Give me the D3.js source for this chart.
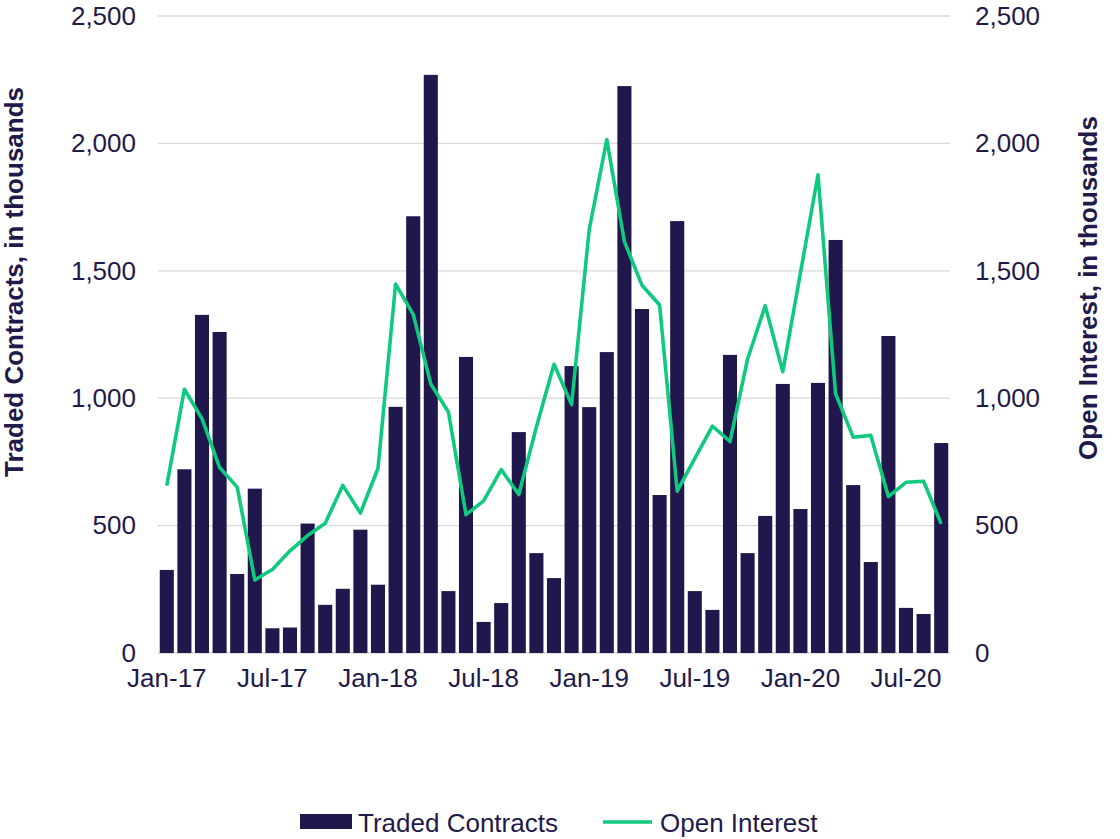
<!DOCTYPE html>
<html>
<head>
<meta charset="utf-8">
<script src="https://cdn.jsdelivr.net/npm/d3@7"></script>
<style>
  body { margin: 0; background: #fff; }
  svg { font-family: "Liberation Sans", Arial, sans-serif; }
</style>
</head>
<body>
<div id="chart"></div>
<script>
// months Jan-17 .. Sep-20
const months = [
  "Jan-17","Feb-17","Mar-17","Apr-17","May-17","Jun-17","Jul-17","Aug-17","Sep-17","Oct-17","Nov-17","Dec-17",
  "Jan-18","Feb-18","Mar-18","Apr-18","May-18","Jun-18","Jul-18","Aug-18","Sep-18","Oct-18","Nov-18","Dec-18",
  "Jan-19","Feb-19","Mar-19","Apr-19","May-19","Jun-19","Jul-19","Aug-19","Sep-19","Oct-19","Nov-19","Dec-19",
  "Jan-20","Feb-20","Mar-20","Apr-20","May-20","Jun-20","Jul-20","Aug-20","Sep-20"
];
const tradedContracts = [
  326, 721, 1327, 1260, 310, 645, 97, 100, 508, 189, 252, 484,
  268, 966, 1714, 2269, 243, 1162, 122, 196, 867, 392, 294, 1126,
  965, 1181, 2225, 1350, 620, 1695, 243, 169, 1170, 392, 538, 1056,
  565, 1060, 1621, 659, 357, 1244, 177, 153, 824
];
const openInterest = [
  657, 1035, 920, 728, 651, 287, 328, 401, 461, 509, 658, 549,
  725, 1448, 1329, 1056, 946, 543, 597, 720, 622, 887, 1133, 975,
  1661, 2015, 1615, 1443, 1366, 635, 764, 890, 830, 1154, 1363, 1104,
  1491, 1877, 1017, 847, 854, 614, 670, 674, 507
];
const xTickLabels = ["Jan-17","Jul-17","Jan-18","Jul-18","Jan-19","Jul-19","Jan-20","Jul-20"];
const yTicks = [0, 500, 1000, 1500, 2000, 2500];

const width = 1120, height = 839;
const margin = { top: 16, right: 170, bottom: 186, left: 158 };
const textColor = "#1f1a4a";
const barColor = "#20184d";
const lineColor = "#0fca7e";
const fontSize = "26px";

const svg = d3.select("#chart").append("svg")
  .attr("width", width).attr("height", height);

const x = d3.scaleBand()
  .domain(months)
  .range([margin.left, width - margin.right])
  .paddingInner(0.2)
  .paddingOuter(0.1);

const yLeft = d3.scaleLinear().domain([0, 2500]).range([height - margin.bottom, margin.top]);
const yRight = d3.scaleLinear().domain([0, 2500]).range([height - margin.bottom, margin.top]);

// gridlines
svg.append("g")
  .selectAll("line")
  .data(yTicks)
  .join("line")
  .attr("x1", margin.left).attr("x2", width - margin.right)
  .attr("y1", d => yLeft(d)).attr("y2", d => yLeft(d))
  .attr("stroke", "#d9d9d9").attr("stroke-width", 1.3);

// bars
svg.append("g")
  .attr("fill", barColor)
  .selectAll("rect")
  .data(tradedContracts)
  .join("rect")
  .attr("x", (d, i) => x(months[i]))
  .attr("y", d => yLeft(d))
  .attr("width", x.bandwidth())
  .attr("height", d => yLeft(0) - yLeft(d));

// line
const line = d3.line()
  .x((d, i) => x(months[i]) + x.bandwidth() / 2)
  .y(d => yRight(d));

svg.append("path")
  .datum(openInterest)
  .attr("fill", "none")
  .attr("stroke", lineColor)
  .attr("stroke-width", 3.6)
  .attr("stroke-linejoin", "round")
  .attr("d", line);

function styleAxis(g) {
  g.select(".domain").remove();
  g.selectAll("text")
    .attr("fill", textColor)
    .attr("font-size", fontSize)
    .attr("font-family", "Liberation Sans, Arial, sans-serif");
}

// left axis
const fmt = d3.format(",");
svg.append("g")
  .attr("transform", `translate(139,0)`)
  .call(d3.axisLeft(yLeft).tickValues(yTicks).tickFormat(fmt).tickSize(0))
  .call(styleAxis);

// right axis
svg.append("g")
  .attr("transform", `translate(972,0)`)
  .call(d3.axisRight(yRight).tickValues(yTicks).tickFormat(fmt).tickSize(0))
  .call(styleAxis);

// bottom axis
svg.append("g")
  .attr("transform", `translate(0,${height - margin.bottom + 13})`)
  .call(d3.axisBottom(x).tickValues(xTickLabels).tickSize(0))
  .call(styleAxis);

// axis titles
svg.append("text")
  .attr("transform", "translate(23,282) rotate(-90)")
  .attr("text-anchor", "middle")
  .attr("fill", textColor)
  .attr("font-size", fontSize)
  .attr("font-weight", "bold")
  .text("Traded Contracts, in thousands");

svg.append("text")
  .attr("transform", "translate(1097,288) rotate(-90)")
  .attr("text-anchor", "middle")
  .attr("fill", textColor)
  .attr("font-size", fontSize)
  .attr("font-weight", "bold")
  .text("Open Interest, in thousands");

// legend
const legend = svg.append("g").attr("transform", "translate(300,822)");
legend.append("rect")
  .attr("x", 0).attr("y", -8).attr("width", 52).attr("height", 15)
  .attr("fill", barColor);
legend.append("text")
  .attr("x", 58).attr("y", 10)
  .attr("fill", textColor).attr("font-size", fontSize)
  .text("Traded Contracts");
legend.append("line")
  .attr("x1", 303).attr("x2", 352).attr("y1", 0).attr("y2", 0)
  .attr("stroke", lineColor).attr("stroke-width", 3.6);
legend.append("text")
  .attr("x", 360).attr("y", 10)
  .attr("fill", textColor).attr("font-size", fontSize)
  .text("Open Interest");
</script>
</body>
</html>
